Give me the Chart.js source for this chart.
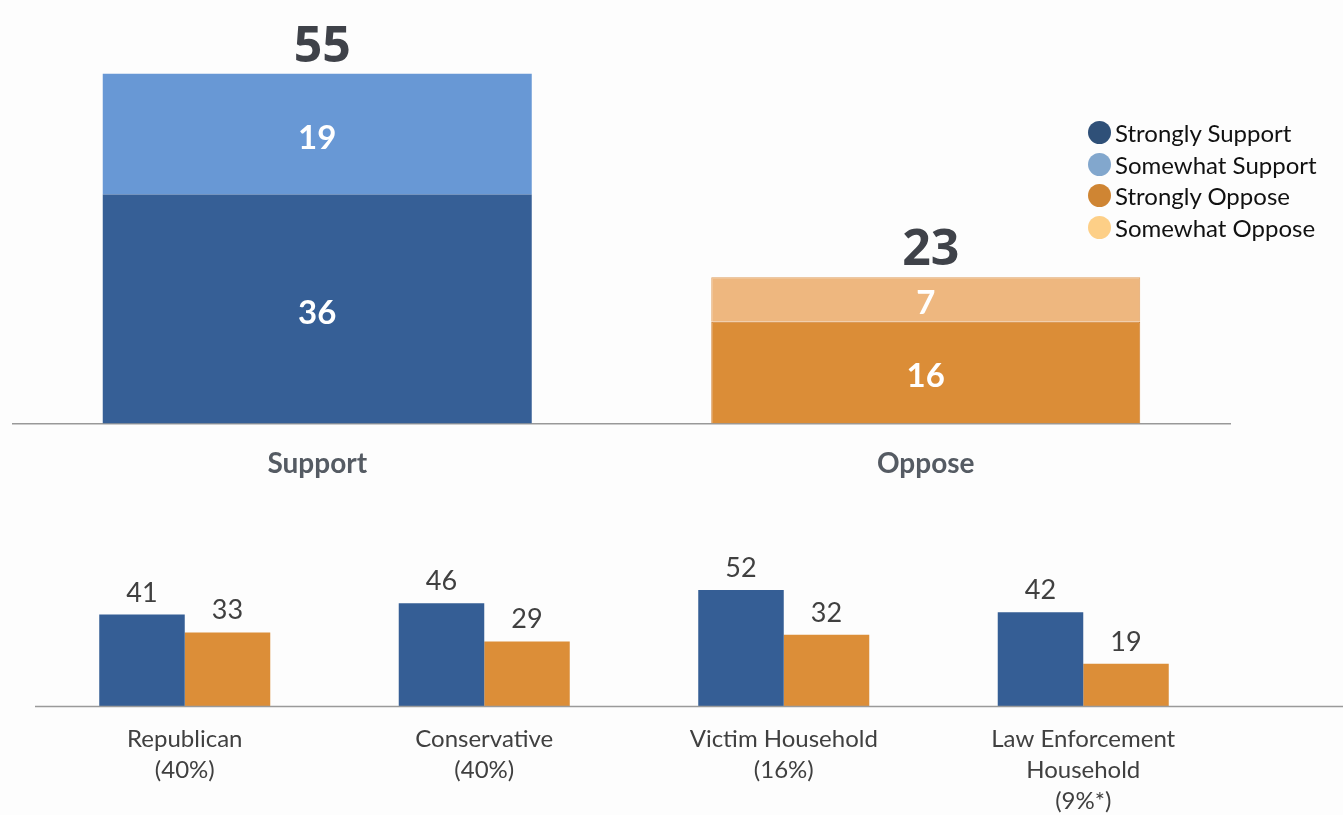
<!DOCTYPE html>
<html>
<head>
<meta charset="utf-8">
<script src="https://cdn.jsdelivr.net/npm/chart.js@4.4.1/dist/chart.umd.min.js"></script>
<style>
  body { margin: 0; background: #fdfdfd; width: 1343px; height: 815px; overflow: hidden; position: relative; font-family: Lato, "Open Sans", sans-serif; }
  #top-wrap { position: absolute; left: 0; top: 0; width: 1343px; height: 497px; }
  #bottom-wrap { position: absolute; left: 0; top: 515px; width: 1343px; height: 311px; }
  #legend { position: absolute; left: 1088px; top: 117px; }
  .item { display: flex; align-items: center; height: 31.5px; font-size: 24px; color: #111; }
  .dot { width: 23px; height: 23px; border-radius: 50%; margin-right: 4px; }
</style>
</head>
<body>
<div id="top-wrap"><canvas id="top-chart"></canvas></div>
<div id="bottom-wrap"><canvas id="bottom-chart"></canvas></div>
<div id="legend"></div>
<script>
// Top chart data
const topCategories = ['Support', 'Oppose'];
const stronglySupport = [36, null];
const somewhatSupport = [19, null];
const stronglyOppose = [null, 16];
const somewhatOppose = [null, 7];
const topTotals = [55, 23];

// Bottom chart data
const groupLabels = [['Republican', '(40%)'], ['Conservative', '(40%)'], ['Victim Household', '(16%)'], ['Law Enforcement', 'Household', '(9%*)']];
const supportVals = [41, 46, 52, 42];
const opposeVals = [33, 29, 32, 19];

const legendItems = [
    ['Strongly Support', '#2f5078'],
    ['Somewhat Support', '#82a7cd'],
    ['Strongly Oppose', '#cf8533'],
    ['Somewhat Oppose', '#fdcf87']
];

document.getElementById('legend').innerHTML = legendItems.map(([name, c]) =>
    `<div class="item"><span class="dot" style="background:${c}"></span>${name}</div>`).join('');

// draws segment values inside bars and totals above
const segmentLabels = {
    id: 'segmentLabels',
    afterDatasetsDraw(chart) {
        const ctx = chart.ctx;
        ctx.save();
        ctx.textAlign = 'center';
        ctx.textBaseline = 'middle';
        ctx.fillStyle = '#ffffff';
        ctx.font = 'bold 33px Lato, sans-serif';
        chart.data.datasets.forEach((ds, di) => {
            chart.getDatasetMeta(di).data.forEach((bar, i) => {
                if (ds.data[i] == null) return;
                ctx.fillText(ds.data[i], bar.x, (bar.y + bar.base) / 2 + 4);
            });
        });
        // totals
        ctx.fillStyle = '#3f4249';
        ctx.font = 'bold 50px "Open Sans", sans-serif';
        ctx.textBaseline = 'alphabetic';
        const y = chart.scales.y;
        const x = chart.scales.x;
        topTotals.forEach((t, i) => {
            ctx.fillText(t, x.getPixelForValue(i) + 5, y.getPixelForValue(t) - 12);
        });
        ctx.restore();
    }
};

const valueLabels = {
    id: 'valueLabels',
    afterDatasetsDraw(chart) {
        const ctx = chart.ctx;
        ctx.save();
        ctx.textAlign = 'center';
        ctx.textBaseline = 'alphabetic';
        ctx.fillStyle = '#404040';
        ctx.font = '27px Lato, sans-serif';
        chart.data.datasets.forEach((ds, di) => {
            chart.getDatasetMeta(di).data.forEach((bar, i) => {
                ctx.fillText(ds.data[i], bar.x, bar.y - 13);
            });
        });
        // baseline runs to the right edge
        ctx.strokeStyle = '#9a9a9a';
        ctx.lineWidth = 1.5;
        ctx.beginPath();
        ctx.moveTo(chart.chartArea.left, chart.chartArea.bottom);
        ctx.lineTo(chart.width, chart.chartArea.bottom);
        ctx.stroke();
        ctx.restore();
    }
};

function initTop() {
    new Chart(document.getElementById('top-chart'), {
        type: 'bar',
        data: {
            labels: topCategories,
            datasets: [
                { label: 'Strongly Support', data: stronglySupport, backgroundColor: '#365f96' },
                { label: 'Somewhat Support', data: somewhatSupport, backgroundColor: '#6898d5' },
                { label: 'Strongly Oppose', data: stronglyOppose, backgroundColor: '#db8d37', borderColor: '#d08030', borderWidth: 1 },
                { label: 'Somewhat Oppose', data: somewhatOppose, backgroundColor: '#eeb77f', borderColor: '#e0a060', borderWidth: 1 }
            ]
        },
        options: {
            responsive: true,
            maintainAspectRatio: false,
            animation: false,
            layout: { padding: { left: 13, right: 113, top: 42, bottom: 0 } },
            plugins: { legend: { display: false }, tooltip: { enabled: false } },
            datasets: { bar: { categoryPercentage: 1, barPercentage: 0.705, skipNull: true } },
            scales: {
                x: {
                    stacked: true,
                    grid: { display: false },
                    border: { color: '#999', width: 1.5 },
                    ticks: { color: '#555b63', font: { family: 'Lato', size: 28, weight: 'bold' }, padding: 16 }
                },
                y: { stacked: true, display: false, min: 0, max: 60 }
            }
        },
        plugins: [segmentLabels]
    });
}

function initBottom() {
    new Chart(document.getElementById('bottom-chart'), {
        type: 'bar',
        data: {
            labels: groupLabels,
            datasets: [
                { label: 'Support', data: supportVals, backgroundColor: '#355e95' },
                { label: 'Oppose', data: opposeVals, backgroundColor: '#dc8e38' }
            ]
        },
        options: {
            responsive: true,
            maintainAspectRatio: false,
            animation: false,
            layout: { padding: { left: 35, right: 110, top: 57, bottom: 0 } },
            plugins: { legend: { display: false }, tooltip: { enabled: false } },
            datasets: { bar: { categoryPercentage: 0.571, barPercentage: 1 } },
            scales: {
                x: {
                    grid: { display: false },
                    border: { display: false },
                    ticks: { color: '#404040', font: { family: 'Lato', size: 24, lineHeight: 1.3 }, padding: 9, maxRotation: 0, autoSkip: false }
                },
                y: { display: false, min: 0, max: 60 }
            }
        },
        plugins: [valueLabels]
    });
}

initTop();
initBottom();
</script>
</body>
</html>
